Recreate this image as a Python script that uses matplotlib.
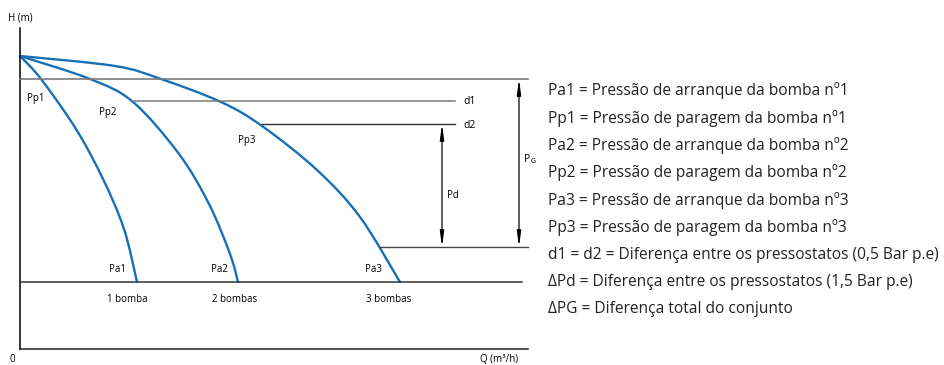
import matplotlib.pyplot as plt
from matplotlib.path import Path
from matplotlib.patches import PathPatch

plt.rcParams['font.family'] = ['Open Sans', 'DejaVu Sans']

# Curvas das bombas (Q, H) em unidades do esquema
q_1 = [0, 21, 56, 83, 104, 117]
h_1 = [293, 270, 220, 170, 120, 67]
q_2 = [0, 70, 113, 159, 189, 210, 218]
h_2 = [293, 270, 247, 195, 145, 95, 67]
q_3 = [0, 95, 141, 201, 242, 297, 340, 380]
h_3 = [293, 283, 270, 247, 223, 179, 132, 67]

# Níveis de pressão
h_top = 270      # Pa / topo PG
h_d1 = 248
h_d2 = 225
h_low = 102      # fundo Pd / PG
h_base = 67      # Pa1, Pa2, Pa3
q_d1_start = 113
q_d2_start = 242
q_low_start = 360
q_end = 508
q_dend = 435
q_pd = 422
q_pg = 499

curve_labels = ['Pp1', 'Pp2', 'Pp3']
curve_label_pos = [(16, 251), (88, 237), (227, 209)]
start_labels = ['Pa1', 'Pa2', 'Pa3']
start_label_pos = [(97, 79), (199, 79), (353, 79)]
pump_labels = ['1 bomba', '2 bombas', '3 bombas']
pump_label_pos = [(107, 49), (215, 49), (369, 49)]

legenda = [
    'Pa1 = Pressão de arranque da bomba nº1',
    'Pp1 = Pressão de paragem da bomba nº1',
    'Pa2 = Pressão de arranque da bomba nº2',
    'Pp2 = Pressão de paragem da bomba nº2',
    'Pa3 = Pressão de arranque da bomba nº3',
    'Pp3 = Pressão de paragem da bomba nº3',
    'd1 = d2 = Diferença entre os pressostatos (0,5 Bar p.e)',
    'ΔPd = Diferença entre os pressostatos (1,5 Bar p.e)',
    'ΔPG = Diferença total do conjunto',
]


def smooth_path(q, h):
    # curva de Bezier que passa pelos pontos lidos (Catmull-Rom)
    pts = list(zip(q, h))
    verts = [pts[0]]
    codes = [Path.MOVETO]
    n = len(pts)
    for i in range(n - 1):
        p0 = pts[max(i - 1, 0)]
        p1 = pts[i]
        p2 = pts[i + 1]
        p3 = pts[min(i + 2, n - 1)]
        c1 = (p1[0] + (p2[0] - p0[0]) / 6, p1[1] + (p2[1] - p0[1]) / 6)
        c2 = (p2[0] - (p3[0] - p1[0]) / 6, p2[1] - (p3[1] - p1[1]) / 6)
        verts += [c1, c2, p2]
        codes += [Path.CURVE4] * 3
    return Path(verts, codes)


fig = plt.figure(figsize=(9.45, 3.65), dpi=100)
ax = fig.add_axes([0, 0, 1, 1])
ax.set_xlim(-20, 925)
ax.set_ylim(-16, 349)
ax.axis('off')

blue = '#1670b8'

# eixos
ax.plot([0, 0], [0, 321], color='black', lw=1.1)
ax.plot([0, q_end], [0, 0], color='#222222', lw=1.1)
ax.text(-12, 331, 'H (m)', fontsize=7, va='center', ha='left')
ax.text(-8, -10, '0', fontsize=7, va='center', ha='center')
ax.text(479, -11, 'Q (m³/h)', fontsize=7, va='center', ha='center')

# linhas horizontais
ax.plot([0, q_end], [h_top, h_top], color='#7a7a7a', lw=1.2)
ax.plot([q_d1_start, q_dend], [h_d1, h_d1], color='#7a7a7a', lw=1.1)
ax.plot([q_d2_start, q_dend], [h_d2, h_d2], color='#333333', lw=1.0)
ax.plot([q_low_start, q_end], [h_low, h_low], color='#444444', lw=1.0)
ax.plot([0, q_end - 6], [h_base, h_base], color='#333333', lw=1.1)

# curvas
for q, h in [(q_1, h_1), (q_2, h_2), (q_3, h_3)]:
    ax.add_patch(PathPatch(smooth_path(q, h), fill=False, edgecolor=blue,
                           lw=1.7, capstyle='round'))

# setas
arrow = dict(arrowstyle='<|-|>,head_length=0.9,head_width=0.12',
             color='black', lw=0.9, shrinkA=0, shrinkB=0)
ax.annotate('', xy=(q_pd, h_d2), xytext=(q_pd, h_low), arrowprops=arrow)
ax.annotate('', xy=(q_pg, h_top), xytext=(q_pg, h_low), arrowprops=arrow)

ax.text(q_pd + 5, 154, 'Pd', fontsize=7, va='center', ha='left')
ax.text(q_pg + 5, 189, 'P', fontsize=7.5, va='center', ha='left')
ax.text(q_pg + 11.5, 187.5, 'G', fontsize=5, va='center', ha='left')
ax.text(q_dend + 8, h_d1 - 1, 'd1', fontsize=7.5, va='center', ha='left')
ax.text(q_dend + 8, h_d2 - 1, 'd2', fontsize=7.5, va='center', ha='left')

for txt, (x, y) in zip(curve_labels, curve_label_pos):
    ax.text(x, y, txt, fontsize=7, va='center', ha='center')
for txt, (x, y) in zip(start_labels, start_label_pos):
    ax.text(x, y, txt, fontsize=7, va='center', ha='center')
for txt, (x, y) in zip(pump_labels, pump_label_pos):
    ax.text(x, y, txt, fontsize=7, va='center', ha='center')

for i, txt in enumerate(legenda):
    ax.text(528, 258 - i * 27.3, txt, fontsize=11.2, va='center', ha='left',
            color='#222222')

fig.savefig('out.png', dpi=100)
